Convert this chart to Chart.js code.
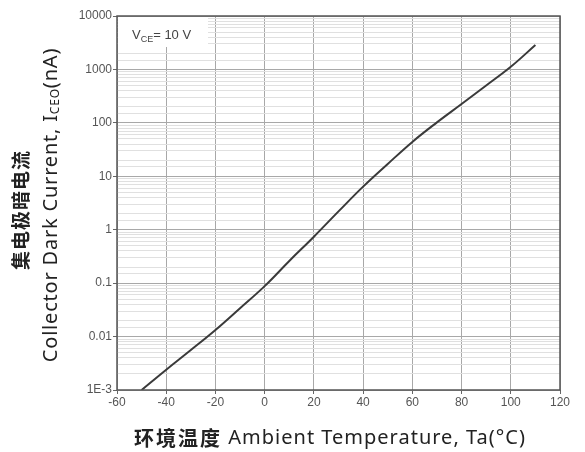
<!DOCTYPE html>
<html>
<head>
<meta charset="utf-8">
<script src="https://cdn.jsdelivr.net/npm/chart.js@4/dist/chart.umd.min.js"></script>
<style>
  html, body { margin: 0; padding: 0; background: #fff; }
  canvas { display: block; }
</style>
</head>
<body>
<canvas id="chart" width="585" height="452"></canvas>
<script>
// ambient temperature (°C) and collector dark current ICEO (nA)
const temps = [-50, -40, -30, -20, -10, 0, 10, 20, 30, 40, 50, 60, 70, 80, 90, 100, 110];
const darkCurrent = [0.001, 0.0024, 0.0056, 0.0133, 0.034, 0.088, 0.26, 0.74, 2.2, 6.4, 17, 44, 102, 225, 500, 1120, 2860];

const xTicks = [-60, -40, -20, 0, 20, 40, 60, 80, 100, 120];
const yDecades = [10000, 1000, 100, 10, 1, 0.1, 0.01, 0.001];
const yTickLabels = ['10000', '1000', '100', '10', '1', '0.1', '0.01', '1E-3'];

const xTitleCn = '环境温度';
const xTitleEn = ' Ambient Temperature, Ta(°C)';
const yTitleCn = '集电极暗电流';
const yTitleEn = ['Collector Dark Current, I', 'CEO', '(nA)'];
const noteText = ['V', 'CE', '= 10 V'];

function decadeIndex(v) {
  const l = Math.log10(v);
  if (Math.abs(l - Math.round(l)) > 1e-6) return -1;
  return yDecades.findIndex(d => Math.abs(Math.log10(d) - l) < 1e-6);
}

const titlesPlugin = {
  id: 'titles',
  beforeDatasetsDraw(chart) {
    const ctx = chart.ctx;
    const a = chart.chartArea;
    // note box in the top left corner
    ctx.save();
    ctx.fillStyle = '#fff';
    ctx.fillRect(a.left + 1, a.top + 1, 90, 30);
    ctx.fillStyle = '#444';
    ctx.textBaseline = 'alphabetic';
    ctx.font = '13px "Liberation Sans"';
    let x = a.left + 15;
    ctx.fillText(noteText[0], x, a.top + 23);
    x += ctx.measureText(noteText[0]).width;
    ctx.font = '9px "Liberation Sans"';
    ctx.fillText(noteText[1], x, a.top + 26);
    x += ctx.measureText(noteText[1]).width;
    ctx.font = '13px "Liberation Sans"';
    ctx.fillText(noteText[2], x, a.top + 23);
    ctx.restore();
  },
  afterDraw(chart) {
    const ctx = chart.ctx;
    const a = chart.chartArea;
    ctx.save();
    // plot frame
    ctx.strokeStyle = '#555';
    ctx.lineWidth = 1.5;
    ctx.strokeRect(a.left, a.top, a.right - a.left, a.bottom - a.top);

    ctx.fillStyle = '#222';
    ctx.textBaseline = 'middle';
    ctx.textAlign = 'left';

    // x title
    ctx.letterSpacing = '2px';
    ctx.font = 'bold 20px "Noto Sans CJK SC"';
    const wCn = ctx.measureText(xTitleCn).width;
    ctx.letterSpacing = '1px';
    ctx.font = '20px "Noto Sans"';
    const wEn = ctx.measureText(xTitleEn).width;
    let x0 = 330 - (wCn + wEn) / 2;
    ctx.letterSpacing = '2px';
    ctx.font = 'bold 20px "Noto Sans CJK SC"';
    ctx.fillText(xTitleCn, x0, 438);
    ctx.letterSpacing = '1px';
    ctx.font = '20px "Noto Sans"';
    ctx.fillText(xTitleEn, x0 + wCn, 438);

    // y title, two rotated lines
    ctx.save();
    ctx.translate(21, 210);
    ctx.rotate(-Math.PI / 2);
    ctx.letterSpacing = '1px';
    ctx.font = 'bold 19px "Noto Sans CJK SC"';
    const wYc = ctx.measureText(yTitleCn).width;
    ctx.fillText(yTitleCn, -wYc / 2, 0);
    ctx.restore();

    ctx.save();
    ctx.translate(51, 205);
    ctx.rotate(-Math.PI / 2);
    ctx.letterSpacing = '0.8px';
    ctx.font = '20px "Noto Sans"';
    const w1 = ctx.measureText(yTitleEn[0]).width;
    const w3 = ctx.measureText(yTitleEn[2]).width;
    ctx.font = '12px "Noto Sans"';
    const w2 = ctx.measureText(yTitleEn[1]).width;
    let s = -(w1 + w2 + w3) / 2;
    ctx.font = '20px "Noto Sans"';
    ctx.fillText(yTitleEn[0], s, 0);
    ctx.font = '12px "Noto Sans"';
    ctx.fillText(yTitleEn[1], s + w1, 5);
    ctx.font = '20px "Noto Sans"';
    ctx.fillText(yTitleEn[2], s + w1 + w2, 0);
    ctx.restore();

    ctx.restore();
  }
};

new Chart(document.getElementById('chart').getContext('2d'), {
  type: 'line',
  data: {
    datasets: [{
      data: temps.map((t, i) => ({ x: t, y: darkCurrent[i] })),
      borderColor: '#3a3a3a',
      borderWidth: 2,
      pointRadius: 0,
      tension: 0.4,
      fill: false
    }]
  },
  options: {
    responsive: false,
    animation: false,
    layout: { padding: { left: 0, right: 25, top: 16, bottom: 0 } },
    plugins: {
      legend: { display: false },
      tooltip: { enabled: false }
    },
    scales: {
      x: {
        type: 'linear',
        min: xTicks[0],
        max: xTicks[xTicks.length - 1],
        afterFit: scale => { scale.height = 62; },
        afterBuildTicks: scale => { scale.ticks = xTicks.map(v => ({ value: v })); },
        ticks: {
          color: '#555',
          font: { family: 'Liberation Sans', size: 12 },
          padding: 1
        },
        grid: { color: '#a8a8a8', lineWidth: 1, tickLength: 4, tickColor: '#666' },
        border: { display: false }
      },
      y: {
        type: 'logarithmic',
        min: yDecades[yDecades.length - 1],
        max: yDecades[0],
        afterFit: scale => { scale.width = 117; },
        ticks: {
          autoSkip: false,
          color: '#555',
          font: { family: 'Liberation Sans', size: 12 },
          padding: 1,
          callback: v => {
            const i = decadeIndex(v);
            return i >= 0 ? yTickLabels[i] : '';
          }
        },
        grid: {
          lineWidth: 1,
          tickLength: 4,
          color: c => decadeIndex(c.tick.value) >= 0 ? '#a8a8a8' : '#e0e0e0',
          tickColor: c => decadeIndex(c.tick.value) >= 0 ? '#666' : 'rgba(0,0,0,0)'
        },
        border: { display: false }
      }
    }
  },
  plugins: [titlesPlugin]
});
</script>
</body>
</html>
